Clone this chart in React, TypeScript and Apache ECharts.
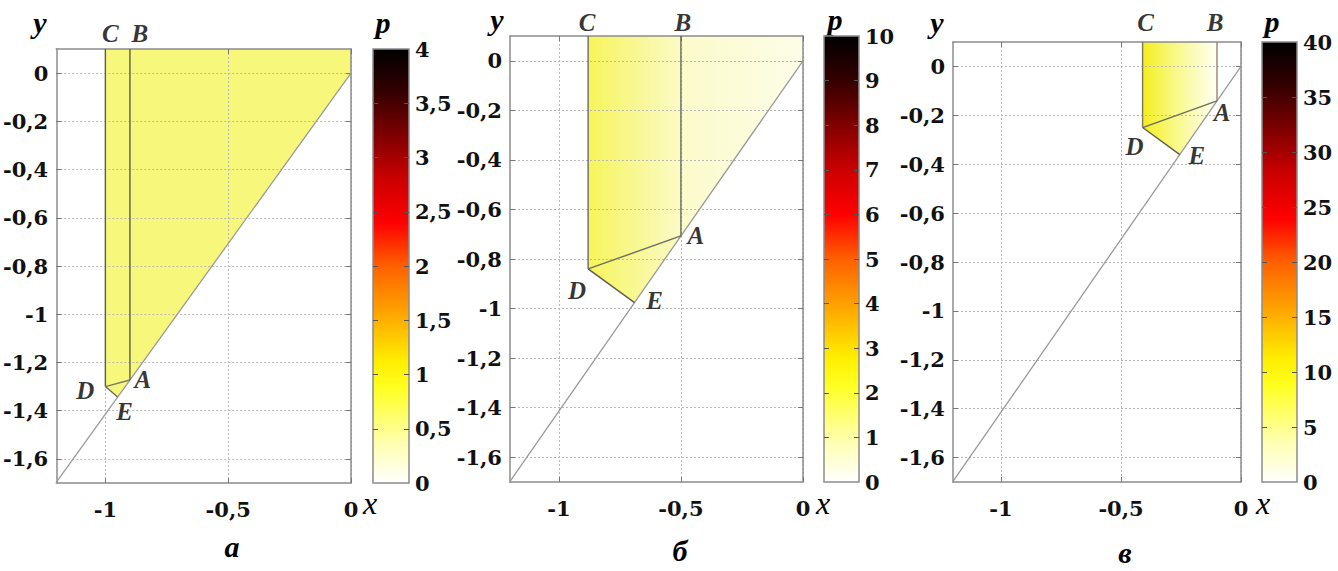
import React, { useEffect, useRef } from "react";
import * as echarts from "echarts";

// ---------- data ----------
const xRange = [-1.2, 0];
const yRange = [-1.7, 0.1];
const xTickValues = [-1, -0.5, 0];
const yTickValues = [-1.6, -1.4, -1.2, -1, -0.8, -0.6, -0.4, -0.2, 0];
const boundaryLine = [[-1.2, -1.697], [0, 0]];

const panelCaptions = ["а", "б", "в"];
const pointNames = ["A", "B", "C", "D", "E"];

const pointsA = [[-0.9, -1.273], [-0.9, 0.1], [-1, 0.1], [-1, -1.3], [-0.95, -1.343]];
const pointsB = [[-0.5, -0.707], [-0.5, 0.1], [-0.88, 0.1], [-0.88, -0.84], [-0.69, -0.976]];
const pointsC = [[-0.1, -0.141], [-0.1, 0.1], [-0.41, 0.1], [-0.41, -0.25], [-0.255, -0.361]];

const regionA = [[-1, 0.1], [0, 0.1], [0, 0], [-0.95, -1.343], [-1, -1.3]];
const regionB = [[-0.88, 0.1], [0, 0.1], [0, 0], [-0.69, -0.976], [-0.88, -0.84]];
const regionC = [[-0.41, 0.1], [-0.1, 0.1], [-0.1, -0.141], [-0.255, -0.361], [-0.41, -0.25]];

const segmentPairs = [["C", "D"], ["B", "A"], ["D", "A"], ["D", "E"]];

const pMaxA = 4;
const pMaxB = 10;
const pMaxC = 40;
const pTicksA = [0, 0.5, 1, 1.5, 2, 2.5, 3, 3.5, 4];
const pTicksB = [0, 1, 2, 3, 4, 5, 6, 7, 8, 9, 10];
const pTicksC = [0, 5, 10, 15, 20, 25, 30, 35, 40];

// ---------- styles / layout ----------
const FONT = "Liberation Serif, serif";
const TICK_FONT = "DejaVu Serif, serif";
const layouts = [
  { grid: { left: 53, top: 49, width: 298, height: 434 }, bar: { left: 373, top: 49, width: 36, height: 434 },
    y: [40, 22], p: [383, 22], x: [370, 503], cap: [232, 546] },
  { grid: { left: 510, top: 36, width: 293, height: 446 }, bar: { left: 824, top: 36, width: 35, height: 446 },
    y: [497, 19], p: [835, 19], x: [823, 503], cap: [680, 550] },
  { grid: { left: 953, top: 42, width: 288, height: 440 }, bar: { left: 1262, top: 42, width: 35, height: 440 },
    y: [937, 22], p: [1272, 21], x: [1263, 503], cap: [1125, 552] },
];
const labelOffsets = [
  [[13, -1], [10, -16], [5, -16], [-20, 4], [7, 15]],
  [[15, 0], [2, -14], [-1, -14], [-11, 22], [20, -2]],
  [[5, 12], [-2, -20], [3, -20], [-8, 19], [17, 1]],
];
const lineColors = [
  ["#5e5e50", "#5e5e50", "#7a7a6a", "#6a6a5a"],
  ["#6a6a60", "#6a6a60", "#6d6d60", "#5e5e50"],
  ["#7a7a5a", "#a08070", "#6d6d60", "#5e5e50"],
];

const fills = [
  "#f7f77c",
  new echarts.graphic.LinearGradient(0, 0, 1, 0, [
    { offset: 0, color: "#f6f55a" },
    { offset: 0.2, color: "#f8f78e" },
    { offset: 0.45, color: "#fbfbcc" },
    { offset: 1, color: "#fdfde8" },
  ]),
  new echarts.graphic.LinearGradient(0, 0, 1, 0, [
    { offset: 0, color: "#f3ef1c" },
    { offset: 0.45, color: "#f9f88a" },
    { offset: 1, color: "#fffff4" },
  ]),
];

const barGradient = () =>
  new echarts.graphic.LinearGradient(0, 0, 0, 1, [
    { offset: 0, color: "#000000" },
    { offset: 0.1, color: "#350000" },
    { offset: 0.2, color: "#800000" },
    { offset: 0.3, color: "#cc0000" },
    { offset: 0.4, color: "#ff0000" },
    { offset: 0.5, color: "#ff6000" },
    { offset: 0.6, color: "#ffa000" },
    { offset: 0.72, color: "#ffee00" },
    { offset: 0.78, color: "#ffff20" },
    { offset: 0.9, color: "#ffffa8" },
    { offset: 1, color: "#ffffff" },
  ]);

const fmt = (v: number) => String(v).replace(".", ",");

export default function App() {
  const ref = useRef<HTMLDivElement>(null);

  useEffect(() => {
    document.body.style.margin = "0";
    if (!ref.current) return;
    const chart = echarts.init(ref.current, null, { renderer: "svg" });

    const panels = [
      { pts: pointsA, region: regionA, pMax: pMaxA, pTicks: pTicksA },
      { pts: pointsB, region: regionB, pMax: pMaxB, pTicks: pTicksB },
      { pts: pointsC, region: regionC, pMax: pMaxC, pTicks: pTicksC },
    ];

    const grid: any[] = [];
    const xAxis: any[] = [];
    const yAxis: any[] = [];
    const series: any[] = [];
    const graphic: any[] = [];

    const frameLine = { show: true, onZero: false, lineStyle: { color: "#8c8c8c", width: 1.5 } };
    const splitLine = { show: true, lineStyle: { color: "#b8b8b8", type: [2, 2], width: 1 } };
    const tickLabel = { fontFamily: TICK_FONT, fontWeight: "bold", fontSize: 21, color: "#111" };

    panels.forEach((panel, i) => {
      const L = layouts[i];
      grid.push({ ...L.grid, containLabel: false });
      grid.push({ ...L.bar, containLabel: false });
      const gMain = i * 2;
      const gBar = i * 2 + 1;

      // main x axes
      xAxis.push({
        type: "value", gridIndex: gMain, min: xRange[0], max: xRange[1], position: "bottom", z: 3,
        axisLine: frameLine,
        axisTick: { show: true, inside: true, length: 5, customValues: xTickValues, lineStyle: { color: "#777" } },
        axisLabel: { show: true, customValues: xTickValues, formatter: fmt, margin: 16, ...tickLabel },
        splitLine,
      });
      xAxis.push({
        type: "value", gridIndex: gMain, min: xRange[0], max: xRange[1], position: "top", z: 3,
        axisLine: frameLine,
        axisTick: { show: true, inside: true, length: 5, customValues: xTickValues, lineStyle: { color: "#777" } },
        axisLabel: { show: false },
        splitLine: { show: false },
      });
      xAxis.push({ type: "value", gridIndex: gBar, min: 0, max: 1, show: false });

      // main y axes
      yAxis.push({
        type: "value", gridIndex: gMain, min: yRange[0], max: yRange[1], position: "left", z: 3,
        axisLine: frameLine,
        axisTick: { show: true, inside: true, length: 5, customValues: yTickValues, lineStyle: { color: "#777" } },
        axisLabel: { show: true, customValues: yTickValues, formatter: fmt, margin: 8, ...tickLabel },
        splitLine,
      });
      yAxis.push({
        type: "value", gridIndex: gMain, min: yRange[0], max: yRange[1], position: "right", z: 3,
        axisLine: frameLine,
        axisTick: { show: true, inside: true, length: 5, customValues: yTickValues, lineStyle: { color: "#777" } },
        axisLabel: { show: false },
        splitLine: { show: false },
      });
      const inner = panel.pTicks.slice(1, -1);
      yAxis.push({
        type: "value", gridIndex: gBar, min: 0, max: panel.pMax, position: "left", z: 5,
        axisLine: { show: false },
        axisTick: { show: true, inside: true, length: 5, customValues: inner, lineStyle: { color: "#555" } },
        axisLabel: { show: false },
        splitLine: { show: false },
      });
      yAxis.push({
        type: "value", gridIndex: gBar, min: 0, max: panel.pMax, position: "right", z: 5,
        axisLine: { show: false },
        axisTick: { show: true, inside: true, length: 5, customValues: inner, lineStyle: { color: "#555" } },
        axisLabel: { show: true, customValues: panel.pTicks, formatter: fmt, margin: 6, ...tickLabel },
        splitLine: { show: false },
      });

      const xi = i * 3;
      const yi = i * 4;

      // filled region
      const region = panel.region;
      series.push({
        type: "custom", xAxisIndex: xi, yAxisIndex: yi, z: 1, silent: true, clip: false,
        data: region,
        renderItem: (params: any, api: any) => {
          if (params.dataIndex !== 0) return null;
          return {
            type: "polygon",
            shape: { points: region.map((p) => api.coord(p)) },
            style: { fill: fills[i], stroke: "none" },
          };
        },
      });

      // boundary diagonal
      series.push({
        type: "line", xAxisIndex: xi, yAxisIndex: yi, z: 4, silent: true,
        data: boundaryLine, symbol: "none",
        lineStyle: { color: "#9a9a9a", width: 1.3 },
      });

      // segments
      segmentPairs.forEach(([a, b], k) => {
        const pa = panel.pts[pointNames.indexOf(a)];
        const pb = panel.pts[pointNames.indexOf(b)];
        series.push({
          type: "line", xAxisIndex: xi, yAxisIndex: yi, z: 5, silent: true,
          data: [pa, pb], symbol: "none",
          lineStyle: { color: lineColors[i][k], width: 1.4 },
        });
      });

      // point labels
      series.push({
        type: "scatter", xAxisIndex: xi, yAxisIndex: yi, z: 6, silent: true, clip: false,
        symbolSize: 0,
        itemStyle: { color: "transparent" },
        data: panel.pts.map((p, k) => ({
          name: pointNames[k],
          value: p,
          label: { offset: labelOffsets[i][k] },
        })),
        label: {
          show: true, position: "inside", formatter: "{b}",
          fontFamily: FONT, fontStyle: "italic", fontWeight: "bold", fontSize: 25, color: "#000",
          textBorderWidth: 0, textBorderColor: "transparent",
        },
      });

      // colour bar
      const pMax = panel.pMax;
      series.push({
        type: "custom", xAxisIndex: xi + 2, yAxisIndex: yi + 2, z: 1, silent: true, clip: false,
        data: [[0, 0]],
        renderItem: (_params: any, api: any) => {
          const p1 = api.coord([0, pMax]);
          const p2 = api.coord([1, 0]);
          return {
            type: "rect",
            shape: { x: p1[0], y: p1[1], width: p2[0] - p1[0], height: p2[1] - p1[1] },
            style: { fill: barGradient(), stroke: "#8c8c8c", lineWidth: 1.5 },
          };
        },
      });

      // axis names & caption
      const txt = (pos: number[], text: string, size: number, bold: boolean) => ({
        type: "text",
        x: pos[0], y: pos[1],
        style: {
          text, fontFamily: FONT, fontStyle: "italic", fontWeight: bold ? "bold" : "normal",
          fontSize: size, fill: "#000", align: "center", verticalAlign: "middle",
        },
      });
      graphic.push(txt(L.y, "y", 30, true));
      graphic.push(txt(L.p, "p", 30, true));
      graphic.push(txt(L.x, "x", 32, false));
      graphic.push(txt(L.cap, panelCaptions[i], 30, true));
    });

    chart.setOption({
      animation: false,
      backgroundColor: "#ffffff",
      grid, xAxis, yAxis, series, graphic,
    });

    return () => chart.dispose();
  }, []);

  return <div ref={ref} style={{ width: 1338, height: 571 }} />;
}
